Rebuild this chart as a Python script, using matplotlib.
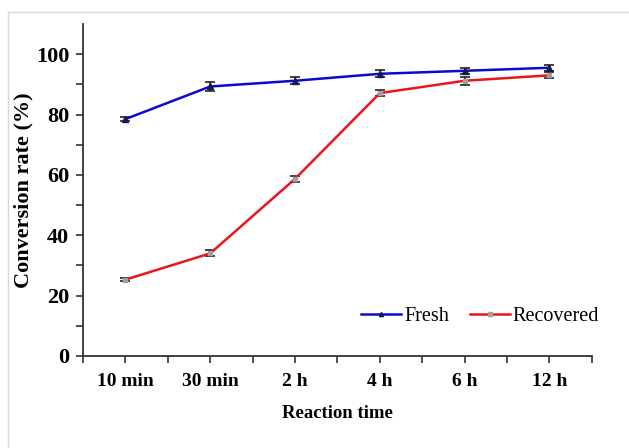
import numpy as np
import matplotlib
matplotlib.use("Agg")
import matplotlib.pyplot as plt
from matplotlib.lines import Line2D

# data
times = ["10 min", "30 min", "2 h", "4 h", "6 h", "12 h"]
fresh = [78.5, 89.3, 91.2, 93.5, 94.5, 95.5]
fresh_err = [0.8, 1.5, 1.2, 1.2, 1.0, 1.0]
recovered = [25.3, 34.0, 58.7, 87.1, 91.2, 93.0]
recovered_err = [0.5, 1.0, 1.0, 1.0, 1.3, 1.0]

plt.rcParams['font.family'] = ['Liberation Serif', 'DejaVu Serif']

fig = plt.figure(figsize=(6.29, 4.48), dpi=100)
ax = fig.add_axes([0.132, 0.2054, 0.809, 0.741])

x = np.arange(len(times))

ax.errorbar(x, fresh, yerr=fresh_err, color='#0a0ad0', lw=1.8,
            marker='^', ms=4, mfc='#1a1a4a', mec='#1a1a4a',
            ecolor='#222222', elinewidth=1.2, capsize=3.5, capthick=1.2,
            label='Fresh', zorder=3)
ax.errorbar(x, recovered, yerr=recovered_err, color='#e8161b', lw=1.8,
            marker='s', ms=3.5, mfc='#a0a0a0', mec='#a0a0a0',
            ecolor='#222222', elinewidth=1.2, capsize=3.5, capthick=1.2,
            label='Recovered', zorder=3)

ax.set_xlim(-0.5, len(times) - 0.5)
ax.set_ylim(0, 110)
ax.set_yticks([0, 20, 40, 60, 80, 100])
ax.set_yticks(np.arange(10, 110, 20), minor=True)
ax.set_xticks(x)
ax.set_xticks(np.arange(-0.5, len(times), 1.0), minor=True)
ax.set_xticklabels(times)

for s in ['top', 'right']:
    ax.spines[s].set_visible(False)
for s in ['left', 'bottom']:
    ax.spines[s].set_color('#333333')
    ax.spines[s].set_linewidth(1.3)

ax.tick_params(axis='both', which='both', direction='out', color='#333333',
               width=1.2, length=5)
ax.tick_params(axis='x', which='major', labelsize=14, pad=7)
ax.tick_params(axis='y', which='major', labelsize=16, pad=5)
for lab in ax.get_xticklabels() + ax.get_yticklabels():
    lab.set_fontweight('bold')

ax.set_xlabel('Reaction time', fontsize=13.5, fontweight='bold', labelpad=11)
ax.set_ylabel('Conversion rate (%)', fontsize=16, fontweight='bold')
ax.yaxis.set_label_coords(-0.097, 0.5)

handles = [
    Line2D([], [], color='#0a0ad0', lw=1.8, marker='^', ms=3, mfc='#1a1a4a', mec='#1a1a4a'),
    Line2D([], [], color='#e8161b', lw=1.8, marker='s', ms=3, mfc='#a0a0a0', mec='#a0a0a0'),
]
ax.legend(handles, ['Fresh', 'Recovered'], loc='lower right', ncol=2,
          frameon=False, fontsize=14.5, bbox_to_anchor=(1.05, 0.035),
          handlelength=2.0, handletextpad=0.15, columnspacing=1.0)

# light frame edges like the screenshot
fig.add_artist(Line2D([8 / 629, 8 / 629], [0, 1 - 12 / 448], color='#d8d8d8', lw=1,
                      transform=fig.transFigure))
fig.add_artist(Line2D([8 / 629, 1], [1 - 12 / 448, 1 - 12 / 448], color='#d8d8d8', lw=1,
                      transform=fig.transFigure))

fig.savefig('out.png', dpi=100)
